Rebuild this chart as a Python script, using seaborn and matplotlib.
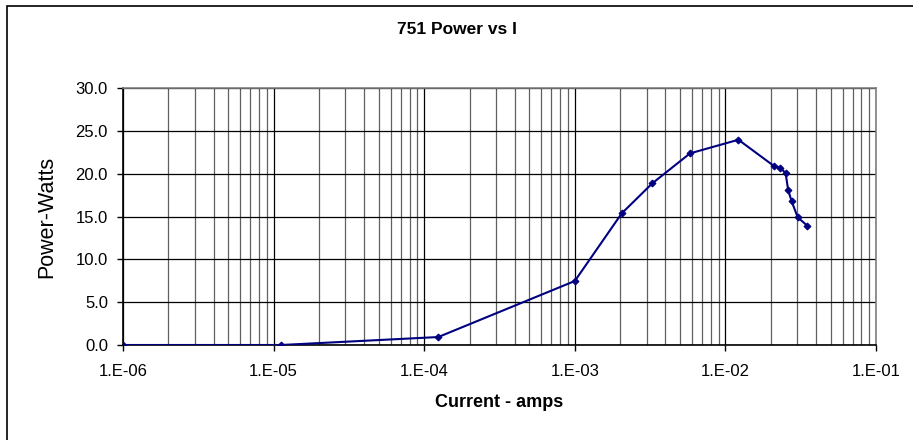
import matplotlib.pyplot as plt
import matplotlib.ticker as mticker
from matplotlib.patches import Rectangle
import seaborn as sns
import pandas as pd

# values
current_amps = [1.0e-6, 1.12e-5, 1.24e-4, 1.0e-3, 2.05e-3, 3.27e-3, 5.82e-3,
                1.22e-2, 2.09e-2, 2.31e-2, 2.51e-2, 2.61e-2, 2.75e-2, 3.02e-2, 3.50e-2]
power_watts = [0.0, 0.0, 0.93, 7.47, 15.37, 18.87, 22.37,
               23.96, 20.92, 20.69, 20.07, 18.09, 16.8, 14.9, 13.92]
x_ticks = [1e-6, 1e-5, 1e-4, 1e-3, 1e-2, 1e-1]
x_tick_labels = ['1.E-06', '1.E-05', '1.E-04', '1.E-03', '1.E-02', '1.E-01']
y_ticks = [0, 5, 10, 15, 20, 25, 30]

df = pd.DataFrame({'current': current_amps, 'power': power_watts})

sns.set_style('white')
plt.rcParams['font.family'] = ['Liberation Sans', 'DejaVu Sans']
plt.rcParams['text.color'] = 'black'
plt.rcParams['axes.labelcolor'] = 'black'
plt.rcParams['xtick.color'] = 'black'
plt.rcParams['ytick.color'] = 'black'

fig = plt.figure(figsize=(9.13, 4.4), dpi=100)
ax = fig.add_axes([0.1347, 0.2159, 0.8248, 0.5841])

# outer chart frame (right and bottom edges run off the picture)
fig.patches.append(Rectangle((7 / 913, -0.2), 1.2, 1 - 6 / 440 + 0.2,
                             transform=fig.transFigure, fill=False,
                             edgecolor='black', linewidth=1.2, zorder=0))

sns.lineplot(data=df, x='current', y='power', ax=ax, color='#000080',
             marker='D', markersize=3.5, markeredgecolor='#000080',
             linewidth=1.5, estimator=None, sort=False, zorder=5)

ax.set_xscale('log')
ax.set_xlim(1e-6, 1e-1)
ax.set_ylim(0, 30)
ax.set_xticks(x_ticks)
ax.set_xticklabels(x_tick_labels)
ax.xaxis.set_minor_locator(mticker.LogLocator(base=10, subs=range(2, 10)))
ax.xaxis.set_minor_formatter(mticker.NullFormatter())
ax.set_yticks(y_ticks)
ax.yaxis.set_major_formatter(mticker.FormatStrFormatter('%.1f'))

ax.grid(True, which='major', axis='both', color='black', linewidth=0.9)
ax.grid(True, which='minor', axis='x', color='#606060', linewidth=0.9)
ax.set_axisbelow(True)

for side in ['top', 'right']:
    ax.spines[side].set_color('#808080')
    ax.spines[side].set_linewidth(1.2)
for side in ['left', 'bottom']:
    ax.spines[side].set_color('black')
    ax.spines[side].set_linewidth(1.2)

ax.tick_params(axis='both', which='major', direction='out', length=4.3,
               width=1, color='black', labelsize=12, bottom=True, left=True)
ax.tick_params(axis='x', which='major', pad=9.5)
ax.tick_params(axis='y', which='major', pad=6.5)
ax.tick_params(axis='x', which='minor', length=0)

ax.set_xlabel('Current - amps', fontsize=13, fontweight='bold', labelpad=11)
ax.set_ylabel('Power-Watts', fontsize=15.5, labelpad=13)
fig.text(0.5, 1 - 29 / 440, '751 Power vs I', ha='center', va='center',
         fontsize=12.5, fontweight='bold')

fig.savefig('out.png', dpi=100)
